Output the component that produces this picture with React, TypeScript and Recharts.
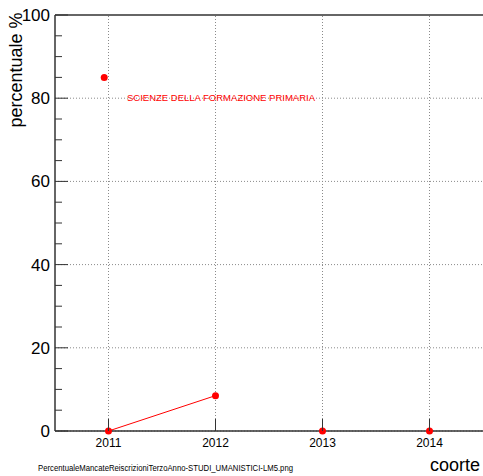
import React from 'react';
import { ComposedChart, Line, Scatter, XAxis, YAxis, ReferenceLine } from 'recharts';

const years = [2011, 2012, 2013, 2014];
const values = [0, 8.5, 0, 0];
const lineYears = [2011, 2012];
const lineValues = [0, 8.5];
const markerPoint = [{ x: 2010.96, y: 85 }];
const yTicks = [0, 5, 10, 15, 20, 25, 30, 35, 40, 45, 50, 55, 60, 65, 70, 75, 80, 85, 90, 95, 100];
const yMajor = [0, 20, 40, 60, 80, 100];
const seriesName = 'SCIENZE DELLA FORMAZIONE PRIMARIA';
const fileName = 'PercentualeMancateReiscrizioniTerzoAnno-STUDI_UMANISTICI-LM5.png';

const W = 483;
const H = 476;
const AXIS = '#333333';
const GRID = '#8a8a8a';
const FONT = 'Liberation Sans, Arial, Helvetica, sans-serif';

const pointData = years.map((x, i) => ({ x, y: values[i] }));
const lineData = lineYears.map((x, i) => ({ x, y: lineValues[i] }));

const XTick = (props: any) => {
  const { x, y, payload } = props;
  return (
    <g>
      <line x1={x} y1={y} x2={x} y2={y - 12} stroke={AXIS} strokeWidth={1} />
      <text x={x} y={y + 16} textAnchor="middle" fontSize={12} fontFamily={FONT} fill="#000">
        {payload.value}
      </text>
    </g>
  );
};

const YTick = (props: any) => {
  const { x, y, payload } = props;
  const major = yMajor.includes(payload.value);
  return (
    <g>
      <line x1={x} y1={y} x2={x + (major ? 13 : 7)} y2={y} stroke={AXIS} strokeWidth={1} />
      {major && (
        <text x={x - 5} y={y + 6} textAnchor="end" fontSize={17} fontFamily={FONT} fill="#000">
          {payload.value}
        </text>
      )}
    </g>
  );
};

const RedDot = (props: any) => {
  const { cx, cy } = props;
  return <circle cx={cx} cy={cy} r={3.5} fill="#ff0000" />;
};

export default function App() {
  return (
    <div style={{ position: 'absolute', left: 0, top: 0, width: W, height: H, background: '#fff' }}>
      <ComposedChart width={W} height={H} margin={{ top: 15, right: 0, bottom: 0, left: 0 }}>
        <XAxis
          type="number"
          dataKey="x"
          domain={[2010.5, 2014.5]}
          ticks={years}
          allowDataOverflow
          height={45}
          tickSize={0}
          tickMargin={0}
          tickLine={false}
          axisLine={{ stroke: AXIS, strokeWidth: 1.5 }}
          tick={<XTick />}
          interval={0}
        />
        <YAxis
          type="number"
          dataKey="y"
          domain={[0, 100]}
          ticks={yTicks}
          width={55}
          tickSize={0}
          tickMargin={0}
          tickLine={false}
          axisLine={{ stroke: AXIS, strokeWidth: 1.5 }}
          tick={<YTick />}
          interval={0}
        />
        {yMajor.slice(0, 5).map((v) => (
          <ReferenceLine key={'h' + v} y={v} stroke={GRID} strokeDasharray="1 2" />
        ))}
        {years.map((v) => (
          <ReferenceLine key={'v' + v} x={v} stroke={GRID} strokeDasharray="1 2" />
        ))}
        <ReferenceLine y={100} stroke={AXIS} strokeWidth={1.5} />
        <Line
          data={lineData}
          dataKey="y"
          stroke="#ff0000"
          strokeWidth={1}
          dot={false}
          isAnimationActive={false}
          type="linear"
        />
        <Scatter data={pointData} dataKey="y" shape={<RedDot />} isAnimationActive={false} />
        <Scatter data={markerPoint} dataKey="y" shape={<RedDot />} isAnimationActive={false} />
      </ComposedChart>
      <svg width={W} height={H} style={{ position: 'absolute', left: 0, top: 0, pointerEvents: 'none' }}>
        <text
          x={127}
          y={100.5}
          fontSize={9.5}
          fontFamily={FONT}
          fill="#ff0000"
          textLength={188}
          lengthAdjust="spacingAndGlyphs"
        >
          {seriesName}
        </text>
        <text
          transform="translate(22,70) rotate(-90)"
          textAnchor="middle"
          fontSize={18}
          fontFamily={FONT}
          fill="#000"
        >
          percentuale %
        </text>
        <text x={480} y={471} textAnchor="end" fontSize={18} fontFamily={FONT} fill="#000">
          coorte
        </text>
        <text x={38} y={471} fontSize={8.5} fontFamily={FONT} fill="#000" textLength={255} lengthAdjust="spacingAndGlyphs">
          {fileName}
        </text>
      </svg>
    </div>
  );
}
